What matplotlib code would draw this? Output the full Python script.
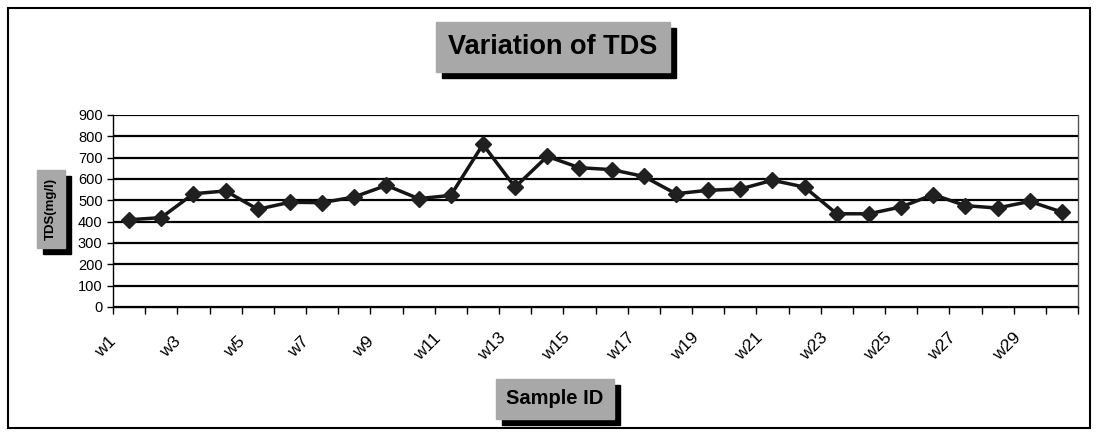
import numpy as np
import matplotlib
matplotlib.use('Agg')
from matplotlib import pyplot as plt
from matplotlib.patches import Rectangle
import matplotlib.transforms as mtransforms

samples = ['w%d' % i for i in range(1, 31)]
tds = [409, 419, 531, 544, 458, 491, 489, 516, 570, 508,
       523, 762, 562, 706, 653, 644, 612, 531, 547, 553,
       594, 562, 437, 437, 469, 527, 475, 464, 495, 445]
yticks = [0, 100, 200, 300, 400, 500, 600, 700, 800, 900]

plt.rcParams['font.family'] = ['Liberation Sans', 'DejaVu Sans']

fig = plt.figure(figsize=(10.98, 4.34), dpi=100)
ax = fig.add_axes([113/1098, 1 - 307/434, (1078-113)/1098, (307-115)/434])

x = np.arange(len(samples))
ax.plot(x, tds, '-D', color='#151515', lw=2.5, ms=8, mfc='#202020', mec='#202020', zorder=3)

ax.set_xlim(-0.5, len(samples) - 0.5)
ax.set_ylim(0, 900)
ax.set_yticks(yticks)
ax.yaxis.grid(True, color='black', lw=1.6)
ax.set_axisbelow(True)

# ticks at category boundaries, labels on every other category
ax.set_xticks(np.arange(-0.5, len(samples)), minor=False)
ax.set_xticklabels([])
ax.set_xticks(x[::2], minor=True)
ax.set_xticklabels(samples[::2], minor=True, rotation=45, ha='center', va='center', fontsize=12.5)
ax.tick_params(axis='x', which='minor', length=0, pad=0)
ax.tick_params(axis='x', which='major', length=5, direction='out', width=1)
ax.tick_params(axis='y', length=4, width=1, labelsize=10.5)
shift = mtransforms.ScaledTranslation(-0.23, -0.40, fig.dpi_scale_trans)
for lab in ax.xaxis.get_minorticklabels():
    lab.set_transform(lab.get_transform() + shift)
for s in ax.spines.values():
    s.set_linewidth(1.0)
ax.spines['top'].set_visible(False)
ax.spines['right'].set_color('#555555')

boxes = []


def boxed(txt, xc, yc, size, rot=0, pad=0.35):
    t = fig.text(xc, yc, txt, fontsize=size, fontweight='bold', rotation=rot,
                 ha='center', va='center', color='black',
                 bbox=dict(boxstyle='square,pad=%s' % pad, fc='#a8a8a8', ec='#a8a8a8'), zorder=2)
    boxes.append(t)


boxed('Variation of TDS', 553/1098, 1 - 47/434, 19.5, pad=0.45)
boxed('Sample ID', 555/1098, 1 - 399/434, 14.5, pad=0.5)
boxed('TDS(mg/l)', 51/1098, 1 - 209/434, 9.5, rot=90, pad=0.6)

# black drop shadows behind the grey boxes
fig.canvas.draw()
r = fig.canvas.get_renderer()
for t in boxes:
    bb = t.get_bbox_patch().get_window_extent(r)
    fig.add_artist(Rectangle((bb.x0 + 6, bb.y0 - 6), bb.width, bb.height,
                             transform=mtransforms.IdentityTransform(),
                             fc='black', ec='black', zorder=1))

fig.add_artist(Rectangle((8/1098, 1 - 428/434), (1090-8)/1098, (428-8)/434,
                         transform=fig.transFigure, fill=False, ec='black', lw=1.5))

fig.savefig('out.png', dpi=100)
